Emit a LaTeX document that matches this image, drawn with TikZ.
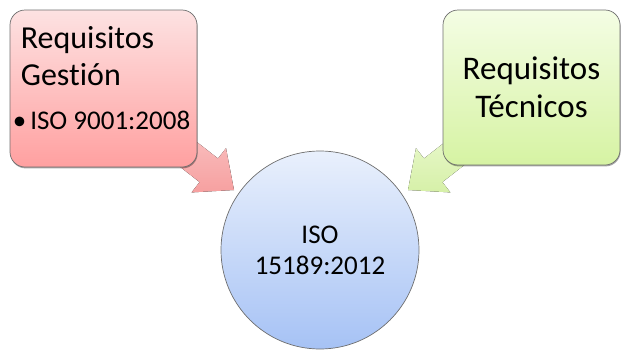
\documentclass[tikz,border=0pt]{standalone}
\usepackage{fontspec}
\setmainfont[Ligatures=NoCommon]{Carlito}
\usetikzlibrary{shadows,calc}

\definecolor{pinkTop}{RGB}{253,226,226}
\definecolor{pinkBot}{RGB}{255,160,160}
\definecolor{greenTop}{RGB}{244,253,228}
\definecolor{greenBot}{RGB}{214,243,163}
\definecolor{blueTop}{RGB}{233,240,252}
\definecolor{blueBot}{RGB}{166,194,245}
\definecolor{pinkArrowTop}{RGB}{251,200,200}
\definecolor{pinkArrowBot}{RGB}{246,160,160}
\definecolor{greenArrowTop}{RGB}{238,251,214}
\definecolor{greenArrowBot}{RGB}{214,240,168}
\definecolor{edgeGray}{RGB}{110,110,110}

\begin{document}
\begin{tikzpicture}[x=1pt,y=-1pt,
  reqbox/.style={rectangle, rounded corners=15pt, draw=edgeGray, line width=0.7pt,
    inner sep=0pt, drop shadow={shadow xshift=0.6pt, shadow yshift=-1.4pt, opacity=0.35, fill=black}},
  hub/.style={circle, draw=edgeGray, line width=0.7pt, minimum size=198pt, inner sep=0pt,
    top color=blueTop, bottom color=blueBot, align=center, font=\fontsize{27}{31}\selectfont},
  pinkarrow/.style={top color=pinkArrowTop, bottom color=pinkArrowBot},
  greenarrow/.style={top color=greenArrowTop, bottom color=greenArrowBot}]
\useasboundingbox (0,0) rectangle (621,351);

% block arrows, drawn first so the boxes cover their tails
\fill[pinkarrow] (162.8,115.4) -- (218.0,158.5) -- (226.0,148.2) -- (234,190)
  -- (191.6,192.4) -- (199.6,182.1) -- (144.4,139.0) -- cycle;
\fill[greenarrow] (479.2,115.4) -- (424.0,158.5) -- (416.0,148.2) -- (408,190)
  -- (450.4,192.4) -- (442.4,182.1) -- (497.6,139.0) -- cycle;

% management requirements box
\node[reqbox, minimum width=187pt, minimum height=157pt, top color=pinkTop, bottom color=pinkBot]
  (gestion) at (103.5,88.5) {};
\node[anchor=north west, inner sep=0pt, align=left, font=\fontsize{32}{37}\selectfont]
  (gestionTitle) at ($(gestion.north west)+(11,17)$) {Requisitos\\Gestión};
\node[anchor=north west, inner sep=0pt, font=\fontsize{27}{32}\selectfont]
  (gestionItem) at ($(gestion.north west)+(3,101)$) {•\hspace{4pt}ISO 9001:2008};

% technical requirements box
\node[reqbox, minimum width=177pt, minimum height=155pt, top color=greenTop, bottom color=greenBot,
  align=center, font=\fontsize{33}{38}\selectfont]
  (tecnicos) at (531.5,87.5) {Requisitos\\Técnicos};

% central standard
\node[hub] (iso) at (320,250) {ISO\\15189:2012};
\end{tikzpicture}
\end{document}
